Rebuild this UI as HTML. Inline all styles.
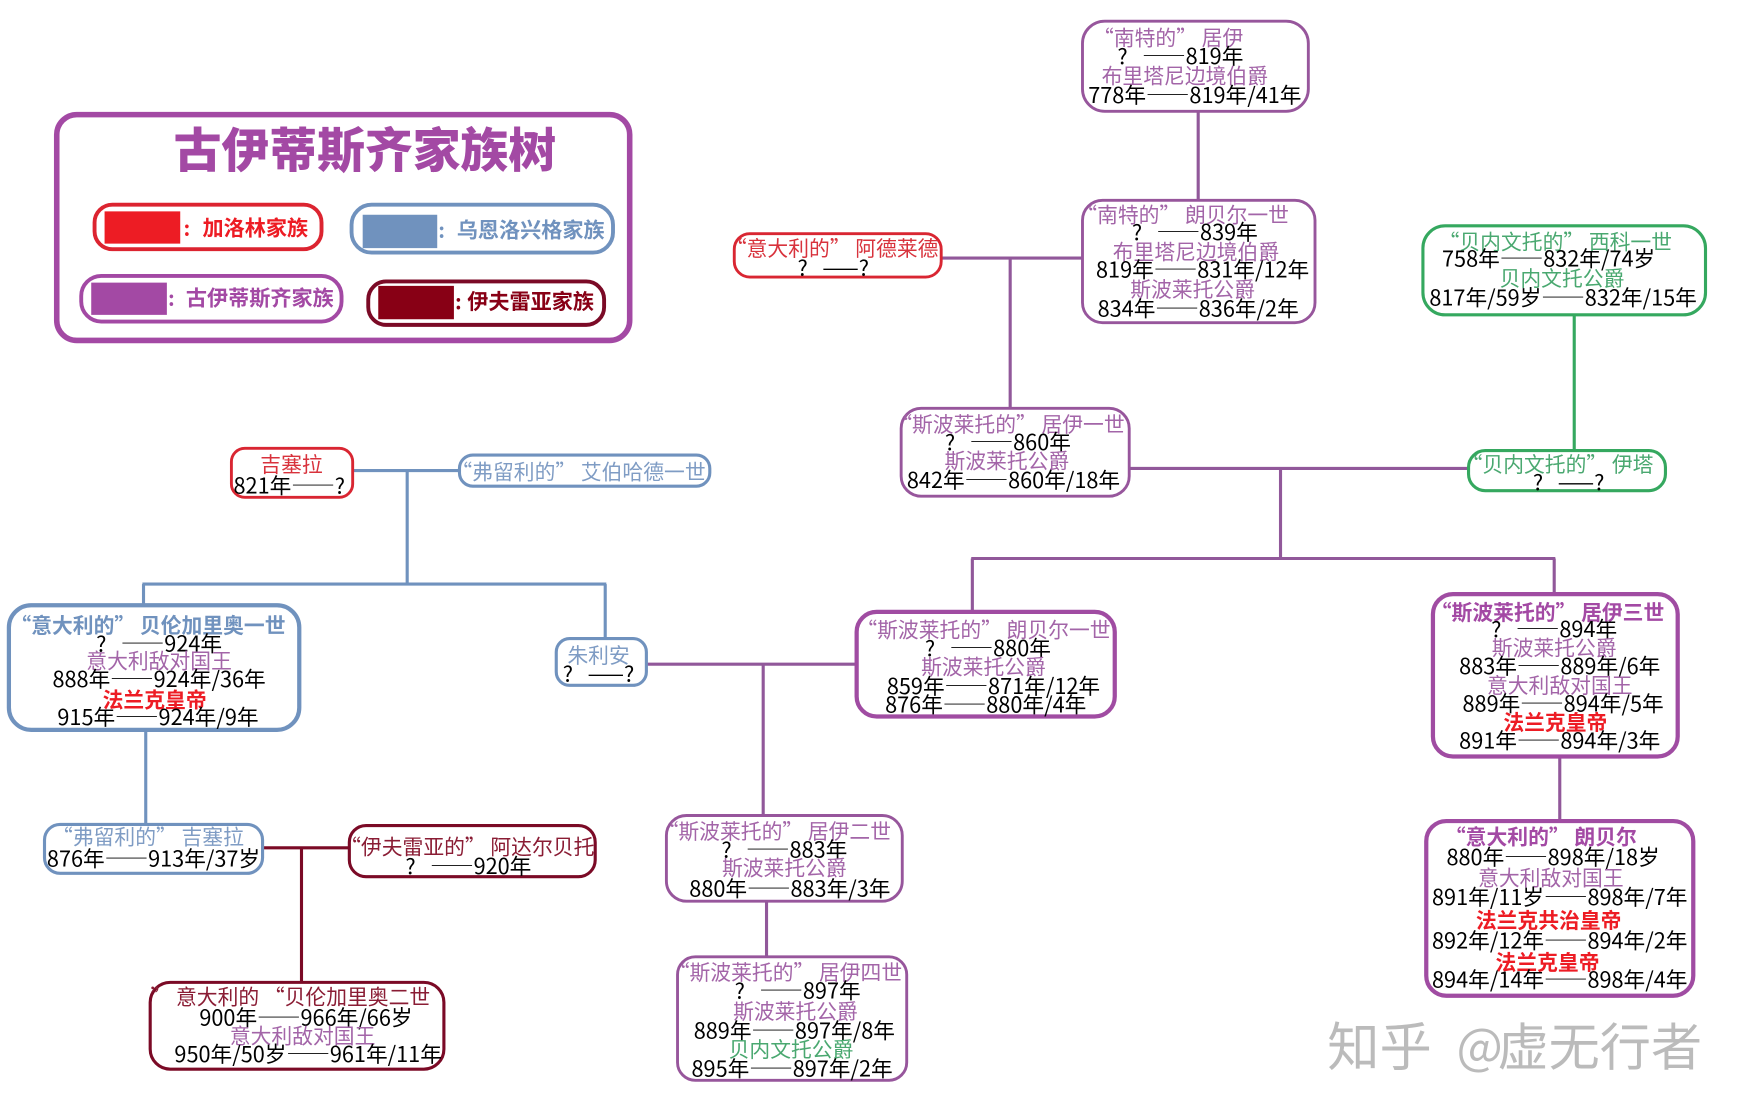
<!DOCTYPE html>
<html lang="zh-CN"><head><meta charset="utf-8"><style>
html,body{margin:0;padding:0;background:#fff;width:1744px;height:1116px;overflow:hidden}
svg{display:block}
text{font-family:"Noto Sans CJK SC","Liberation Sans",sans-serif;font-size:19.5px;text-anchor:middle;dominant-baseline:central;fill:#000}
.p,.b,.r,.g,.d,.bp,.bb,.br{font-size:18.7px}
.p{fill:#a365a8}.b{fill:#7f9cc4}.r{fill:#d8323c}.g{fill:#4aa870}.d{fill:#8a1c34}
.bold{font-weight:700}
.bp{font-weight:700;fill:#a349a4}.bb{font-weight:700;fill:#7092be}.br{font-weight:700;fill:#ed1c24}
rect{fill:#fff}
.np{stroke:#97569c;stroke-width:2.6}.npt{stroke:#a04ca2;stroke-width:3.8}
.nb{stroke:#7092be;stroke-width:2.8}.nbt{stroke:#7092be;stroke-width:3.8}
.nr{stroke:#d92632;stroke-width:2.6}.ng{stroke:#35a85f;stroke-width:2.8}.nd{stroke:#7b0a26;stroke-width:2.8}
line{stroke-width:2.8}
.cp line{stroke:#91589a}.cb line{stroke:#7092be}.cg line{stroke:#35a85f}.cd line{stroke:#7b0a26}
</style></head><body>
<svg xmlns="http://www.w3.org/2000/svg" width="1744" height="1116" viewBox="0 0 1567.6 1003.1">
<g class="cp">
<line x1="1077" y1="100" x2="1077" y2="180"/><line x1="846" y1="232" x2="973" y2="232"/><line x1="908" y1="232" x2="908" y2="367"/>
<line x1="1015" y1="421" x2="1320" y2="421"/><line x1="1151" y1="421" x2="1151" y2="502"/><line x1="873" y1="502" x2="1398" y2="502"/>
<line x1="874" y1="502" x2="874" y2="550"/><line x1="1397" y1="502" x2="1397" y2="534"/><line x1="1402" y1="680" x2="1402" y2="738"/>
<line x1="581" y1="597" x2="770" y2="597"/><line x1="686" y1="597" x2="686" y2="733"/><line x1="689" y1="810" x2="689" y2="860"/>
</g>
<g class="cg"><line x1="1415" y1="283" x2="1415" y2="405"/></g>
<g class="cb">
<line x1="317" y1="423" x2="413" y2="423"/><line x1="366" y1="423" x2="366" y2="526"/><line x1="128" y1="525" x2="545" y2="525"/>
<line x1="129" y1="525" x2="129" y2="544"/><line x1="544" y1="525" x2="544" y2="574"/><line x1="131" y1="656" x2="131" y2="741"/>
</g>
<g class="cd"><line x1="236" y1="762" x2="314" y2="762"/><line x1="271" y1="762" x2="271" y2="883"/></g>

<!-- legend -->
<rect x="51" y="103" width="515" height="203" rx="18" style="stroke:#a349a4;stroke-width:5"/>
<text x="328" y="132" class="bp" style="font-size:43px;font-weight:900">古伊蒂斯齐家族树</text>
<rect x="85" y="184" width="204" height="40" rx="16" style="stroke:#dc2430;stroke-width:3.5"/>
<path d="M94 190H162V219H94Z" fill="#ed1c24"/>
<text x="168" y="204" class="br" style="font-size:18px">:</text>
<text x="229.500" y="204" class="br" style="font-size:19px">加洛林家族</text>
<rect x="316" y="184" width="235" height="43" rx="18" style="stroke:#7092be;stroke-width:3.5"/>
<path d="M326 193H393V223H326Z" fill="#7092be"/>
<text x="397" y="206" class="bb" style="font-size:18px">:</text>
<text x="477" y="206" class="bb" style="font-size:19px">乌恩洛兴格家族</text>
<rect x="73" y="248" width="234" height="41" rx="18" style="stroke:#a349a4;stroke-width:3.5"/>
<path d="M82 254H150V283H82Z" fill="#a349a4"/>
<text x="154" y="267" class="bp" style="font-size:18px">:</text>
<text x="233.500" y="267" class="bp" style="font-size:19px">古伊蒂斯齐家族</text>
<rect x="331" y="253" width="212" height="39" rx="16" style="stroke:#7b0a26;stroke-width:3.500"/>
<path d="M340 257H408V287H340Z" fill="#880015"/>
<text x="412" y="270" class="bold" style="font-size:18px;fill:#880015">:</text>
<text x="477" y="270" class="bold" style="font-size:19px;fill:#880015">伊夫雷亚家族</text>

<!-- 1 -->
<rect class="np" x="973" y="19" width="203" height="81" rx="20"/>
<text class="p" x="1050" y="33">“南特的” 居伊</text>
<text x="1061" y="50">?&#160;&#160;&#160;——819年</text>
<text class="p" x="1065" y="67">布里塔尼边境伯爵</text>
<text x="1074" y="85">778年——819年/41年</text>
<!-- 2 -->
<rect class="np" x="973" y="180" width="209" height="110" rx="18"/>
<text class="p" x="1063" y="192">“南特的” 朗贝尔一世</text>
<text x="1074" y="208">?&#160;&#160;&#160;——839年</text>
<text class="p" x="1075" y="225">布里塔尼边境伯爵</text>
<text x="1081" y="242">819年——831年/12年</text>
<text class="p" x="1072" y="259">斯波莱托公爵</text>
<text x="1077" y="277">834年——836年/2年</text>
<!-- 3 -->
<rect class="nr" x="660" y="210" width="186" height="39" rx="14"/>
<text class="r" x="748" y="222">“意大利的” 阿德莱德</text>
<text x="749" y="240">?&#160;&#160;&#160;——?</text>
<!-- 4 -->
<rect class="ng" x="1279" y="203" width="254" height="80" rx="20"/>
<text class="g" x="1398" y="216">“贝内文托的” 西科一世</text>
<text x="1392" y="232">758年——832年/74岁</text>
<text class="g" x="1404" y="249">贝内文托公爵</text>
<text x="1405" y="267">817年/59岁——832年/15年</text>
<!-- 5 -->
<rect class="ng" x="1320" y="405" width="177" height="36" rx="15"/>
<text class="g" x="1400" y="416">“贝内文托的” 伊塔</text>
<text x="1410" y="433">?&#160;&#160;&#160;——?</text>
<!-- 6 -->
<rect class="np" x="810" y="367" width="205" height="79" rx="18"/>
<text class="p" x="906" y="380">“斯波莱托的” 居伊一世</text>
<text x="906" y="397">?&#160;&#160;&#160;——860年</text>
<text class="p" x="905" y="413">斯波莱托公爵</text>
<text x="911" y="431">842年——860年/18年</text>
<!-- 7 -->
<rect class="nr" x="208" y="403" width="109" height="44" rx="12"/>
<text class="r" x="262" y="416">吉塞拉</text>
<text x="260" y="436">821年——?</text>
<!-- 8 -->
<rect class="nb" x="413" y="409" width="225" height="28" rx="12"/>
<text class="b" x="520" y="423">“弗留利的” 艾伯哈德一世</text>
<!-- 9 -->
<rect class="nbt" x="8" y="544" width="261" height="112" rx="20"/>
<text class="bb" x="133" y="561">“意大利的” 贝伦加里奥一世</text>
<text x="143" y="578">?&#160;&#160;&#160;——924年</text>
<text class="p" x="143" y="593">意大利敌对国王</text>
<text x="143" y="610">888年——924年/36年</text>
<text class="br" x="139" y="628">法兰克皇帝</text>
<text x="142" y="644">915年——924年/9年</text>
<!-- 10 -->
<rect class="nb" x="500" y="574" width="81" height="42" rx="12"/>
<text class="b" x="538" y="588">朱利安</text>
<text x="538" y="605">?&#160;&#160;&#160;——?</text>
<!-- 11 -->
<rect class="npt" x="770" y="550" width="232" height="94" rx="18"/>
<text class="p" x="884" y="565">“斯波莱托的” 朗贝尔一世</text>
<text x="888" y="582">?&#160;&#160;&#160;——880年</text>
<text class="p" x="884" y="598">斯波莱托公爵</text>
<text x="893" y="616">859年——871年/12年</text>
<text x="886" y="633">876年——880年/4年</text>
<!-- 12 -->
<rect class="npt" x="1288" y="534" width="220" height="146" rx="18"/>
<text class="bp" x="1391" y="549">“斯波莱托的” 居伊三世</text>
<text x="1397" y="565">?&#160;&#160;&#160;——894年</text>
<text class="p" x="1397" y="581">斯波莱托公爵</text>
<text x="1402" y="598">883年——889年/6年</text>
<text class="p" x="1402" y="615">意大利敌对国王</text>
<text x="1405" y="632">889年——894年/5年</text>
<text class="br" x="1398" y="648">法兰克皇帝</text>
<text x="1402" y="665">891年——894年/3年</text>
<!-- 13 -->
<rect class="npt" x="1282" y="738" width="240" height="157" rx="18"/>
<text class="bp" x="1385" y="751">“意大利的” 朗贝尔</text>
<text x="1396" y="770">880年——898年/18岁</text>
<text class="p" x="1394" y="788">意大利敌对国王</text>
<text x="1402" y="806">891年/11岁——898年/7年</text>
<text class="br" x="1392" y="826">法兰克共治皇帝</text>
<text x="1402" y="845">892年/12年——894年/2年</text>
<text class="br" x="1391" y="864">法兰克皇帝</text>
<text x="1402" y="880">894年/14年——898年/4年</text>
<!-- 14 -->
<rect class="nb" x="40" y="741" width="196" height="44" rx="14"/>
<text class="b" x="133" y="751">“弗留利的” 吉塞拉</text>
<text x="138" y="771">876年——913年/37岁</text>
<!-- 15 -->
<rect class="nd" x="314" y="742" width="221" height="46" rx="15"/>
<text class="d" x="420" y="760">“伊夫雷亚的” 阿达尔贝托</text>
<text x="421" y="778">?&#160;&#160;&#160;——920年</text>
<!-- 16 -->
<rect class="nd" x="135" y="883" width="264" height="78" rx="18"/>
<text class="d" x="261" y="895">” 意大利的 “贝伦加里奥二世</text>
<text x="275" y="914">900年——966年/66岁</text>
<text class="p" x="272" y="930">意大利敌对国王</text>
<text x="277" y="947">950年/50岁——961年/11年</text>
<!-- 17 -->
<rect class="np" x="599" y="733" width="212" height="77" rx="18"/>
<text class="p" x="696" y="746">“斯波莱托的” 居伊二世</text>
<text x="705" y="763">?&#160;&#160;&#160;——883年</text>
<text class="p" x="705" y="779">斯波莱托公爵</text>
<text x="710" y="798">880年——883年/3年</text>
<!-- 18 -->
<rect class="np" x="609" y="860" width="206" height="111" rx="16"/>
<text class="p" x="706" y="873">“斯波莱托的” 居伊四世</text>
<text x="717" y="890">?&#160;&#160;&#160;——897年</text>
<text class="p" x="715" y="908">斯波莱托公爵</text>
<text x="714" y="926">889年——897年/8年</text>
<text class="g" x="711" y="942">贝内文托公爵</text>
<text x="712" y="960">895年——897年/2年</text>
<!-- watermark -->
<text x="1240" y="938" style="font-size:47px;fill:#bbb">知乎</text>
<text x="1330" y="938" style="font-size:44px;fill:#bbb">@</text>
<text x="1438" y="938" style="font-size:46px;fill:#bbb">虚无行者</text>
</svg>
</body></html>
